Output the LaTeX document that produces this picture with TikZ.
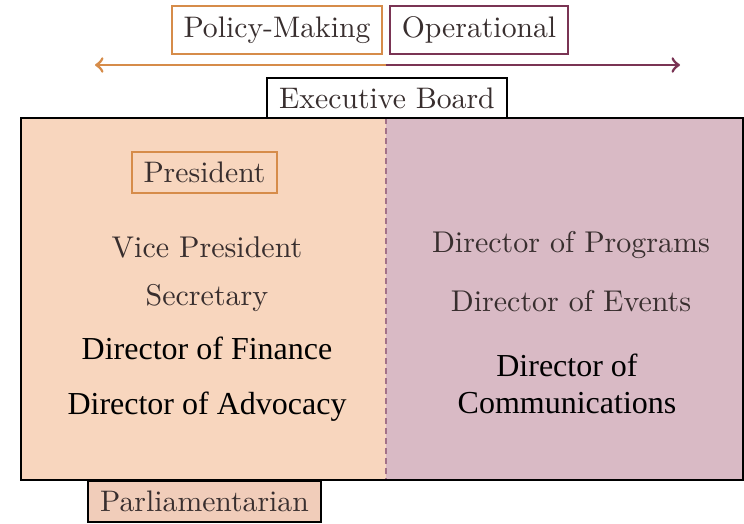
\documentclass[tikz,border=0pt]{standalone}
\usepackage{fontspec}
\newfontfamily\timesfont{Liberation Serif}
\usetikzlibrary{positioning}
\definecolor{peach}{RGB}{248,214,190}
\definecolor{mauve}{RGB}{217,186,197}
\definecolor{parlfill}{RGB}{241,205,186}
\definecolor{policy}{RGB}{214,140,74}
\definecolor{oper}{RGB}{122,52,84}
\definecolor{greytext}{RGB}{56,46,46}

\begin{document}
\begin{tikzpicture}[x=0.35pt,y=-0.35pt,
    role/.style={text=greytext, font=\fontsize{10.5}{12}\selectfont, inner sep=0pt},
    newrole/.style={text=black, font=\timesfont\fontsize{11.2}{13}\selectfont, align=center, inner sep=0pt},
    tag/.style={draw, line width=0.7pt, text=greytext, font=\fontsize{10.4}{12}\selectfont, inner sep=0pt}]
    \useasboundingbox (0,0) rectangle (744,523);

    % Board panel
    \fill[peach] (21,118) rectangle (386,480);
    \fill[mauve] (386,118) rectangle (743,480);
    \draw[dashed, oper!70, line width=0.4pt, dash pattern=on 2pt off 1.5pt] (386,118) -- (386,480);
    \draw[line width=1pt] (21,118) rectangle (743,480);

    % Top labels
    \node[tag, draw=policy, minimum width=73.5pt, minimum height=16.8pt] (policy) at (277,30) {Policy-Making};
    \node[tag, draw=oper, minimum width=62.3pt, minimum height=16.8pt] (oper) at (479,30) {Operational};

    % Arrows
    \coordinate (split) at (386,65);
    \coordinate (leftend) at (95,65);
    \coordinate (rightend) at (680,65);
    \draw[->, policy, line width=1pt] (split) -- (leftend);
    \draw[->, oper, line width=1pt] (split) -- (rightend);

    % Executive Board
    \node[tag, draw=black, fill=white, minimum width=84pt, minimum height=14pt] (exec) at (387,98) {Executive Board};

    % Policy-making side
    \node[tag, draw=policy, minimum width=50.8pt, minimum height=14.3pt] (pres) at (204.5,172.5) {President};
    \node[role] (vp) at (207,247) {Vice President};
    \node[role] (sec) at (207,298) {Secretary};
    \node[newrole] (fin) at (207,348) {Director of Finance};
    \node[newrole] (adv) at (207,407) {Director of Advocacy};

    % Operational side
    \node[role] (prog) at (571,245) {Director of Programs};
    \node[role] (events) at (571,301) {Director of Events};
    \node[newrole] (comms) at (567,384) {Director of\\Communications};

    % Parliamentarian
    \node[tag, draw=black, fill=parlfill, minimum width=81.5pt, minimum height=14.3pt] (parl) at (204.5,501.5) {Parliamentarian};
\end{tikzpicture}
\end{document}
